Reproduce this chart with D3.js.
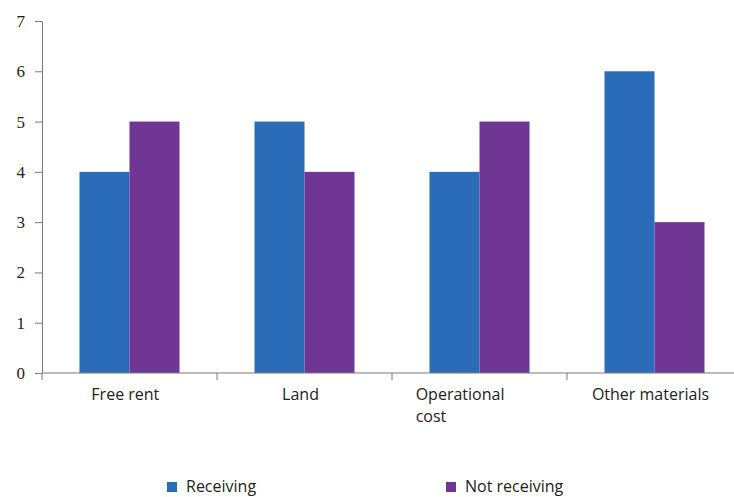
<!DOCTYPE html>
<html>
<head>
<meta charset="utf-8">
<script src="https://cdn.jsdelivr.net/npm/d3@7"></script>
<style>
  html, body { margin: 0; padding: 0; background: #fff; }
  svg { display: block; }
</style>
</head>
<body>
<svg id="chart" width="734" height="497"></svg>
<script>
// Support categories and the number of respondents in each group
const categories = ["Free rent", "Land", "Operational cost", "Other materials"];
const categoryLines = [["Free rent"], ["Land"], ["Operational", "cost"], ["Other materials"]];
const seriesNames = ["Receiving", "Not receiving"];
const receiving = [4, 5, 4, 6];
const notReceiving = [5, 4, 5, 3];
const yTicks = [0, 1, 2, 3, 4, 5, 6, 7];
const colors = ["#2a6cb8", "#703693"];

(function draw() {
  const svg = d3.select("#chart");
  const plotLeft = 42, plotTop = 21, plotBottom = 373, bandW = 175;
  const plotRight = plotLeft + bandW * categories.length;

  const x = d3.scaleBand().domain(categories).range([plotLeft, plotRight]).padding(0);
  const y = d3.scaleLinear().domain([0, 7]).range([plotBottom, plotTop]);
  const xs = d3.scaleBand().domain(seriesNames).range([0, 100]).padding(0);

  const rows = categories.map((c, i) => ({ cat: c, values: [receiving[i], notReceiving[i]] }));

  // Bars
  const g = svg.append("g");
  rows.forEach(r => {
    const x0 = x(r.cat) + (x.bandwidth() - 100) / 2;
    r.values.forEach((v, j) => {
      g.append("rect")
        .attr("x", x0 + xs(seriesNames[j]))
        .attr("y", y(v))
        .attr("width", xs.bandwidth())
        .attr("height", y(0) - y(v))
        .attr("fill", colors[j]);
    });
  });

  // Y axis
  const yAxis = d3.axisLeft(y).tickValues(yTicks).tickFormat(d3.format("d"))
    .tickSize(7).tickSizeOuter(0).tickPadding(10);
  const yg = svg.append("g").attr("transform", `translate(${plotLeft},0)`).call(yAxis);
  yg.select(".domain").attr("stroke", "#7a7a7a");
  yg.selectAll(".tick line").attr("stroke", "#7a7a7a");
  yg.selectAll(".tick text")
    .attr("font-family", "'Liberation Serif', 'DejaVu Serif', serif")
    .attr("font-size", 17)
    .attr("fill", "#222");

  // X axis with ticks at band boundaries
  const xg = svg.append("g").attr("transform", `translate(0,${plotBottom})`);
  xg.append("line").attr("x1", plotLeft).attr("x2", 734).attr("y1", 0).attr("y2", 0).attr("stroke", "#7a7a7a");
  categories.forEach(c => {
    xg.append("line").attr("x1", x(c)).attr("x2", x(c)).attr("y1", 0).attr("y2", 7).attr("stroke", "#7a7a7a");
  });

  // Category labels (multi-line labels keep a left-aligned block centred on the band)
  const font = "'Open Sans', 'Noto Sans', sans-serif";
  categoryLines.forEach((lines, i) => {
    const cx = x(categories[i]) + x.bandwidth() / 2 - 4;
    const t = svg.append("text")
      .attr("font-family", font).attr("font-size", 16).attr("fill", "#222");
    lines.forEach((ln, k) => {
      t.append("tspan").attr("y", 400 + k * 22).text(ln);
    });
    const w = t.node().getBBox().width;
    t.selectAll("tspan").attr("x", cx - w / 2);
  });

  // Legend
  const legendX = [167, 446];
  seriesNames.forEach((s, j) => {
    svg.append("rect").attr("x", legendX[j]).attr("y", 482).attr("width", 10).attr("height", 10).attr("fill", colors[j]);
    svg.append("text").attr("x", legendX[j] + 19).attr("y", 492)
      .attr("font-family", font).attr("font-size", 16).attr("fill", "#222").text(s);
  });
})();
</script>
</body>
</html>
